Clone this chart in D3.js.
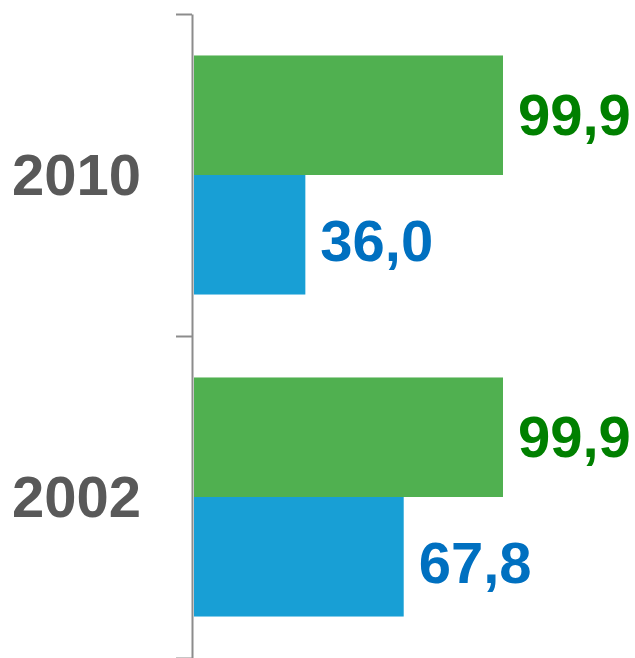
<!DOCTYPE html>
<html><head><meta charset="utf-8">
<script src="https://cdn.jsdelivr.net/npm/d3@7"></script>
<style>html,body{margin:0;padding:0;background:#fff}svg{display:block}</style>
</head><body>
<svg id="c" width="635" height="658"></svg>
<script>
const years = ["2010", "2002"];
const series = ["green", "blue"];
const greenValues = [99.9, 99.9];
const blueValues = [36.0, 67.8];
const barColors = {green: "#50B050", blue: "#189FD5"};
const labelColors = {green: "#008000", blue: "#0070C0"};

const svg = d3.select("#c");
const fmt = v => v.toFixed(1).replace(".", ",");

const y = d3.scaleBand().domain(years).range([14, 658]).paddingInner(0).paddingOuter(0);
const sub = d3.scaleBand().domain(series).range([0, y.bandwidth()]).paddingInner(0).paddingOuter(0.347);
const x = d3.scaleLinear().domain([0, 100]).range([194, 503.3]);

const data = [];
years.forEach((yr, i) => {
  data.push({year: yr, s: "green", v: greenValues[i]});
  data.push({year: yr, s: "blue", v: blueValues[i]});
});

svg.selectAll("rect.bar").data(data).enter().append("rect")
  .attr("class", "bar")
  .attr("x", x(0))
  .attr("y", d => y(d.year) + sub(d.s))
  .attr("width", d => x(d.v) - x(0))
  .attr("height", sub.bandwidth())
  .attr("fill", d => barColors[d.s]);

svg.selectAll("text.val").data(data).enter().append("text")
  .attr("class", "val")
  .attr("x", d => x(d.v) + 15)
  .attr("y", d => y(d.year) + sub(d.s) + sub.bandwidth() / 2 + (d.s === "blue" ? 26 : 19.5))
  .attr("font-family", "Liberation Sans, Arial, sans-serif")
  .attr("font-weight", "bold")
  .attr("font-size", 58)
  .attr("fill", d => labelColors[d.s])
  .text(d => fmt(d.v));

// axis
const tickScale = d3.scaleLinear().domain([0, years.length]).range([14, 658]);
const axis = d3.axisLeft(tickScale).tickValues(d3.range(years.length + 1)).tickSize(16).tickSizeOuter(0).tickFormat("");
const ag = svg.append("g").attr("transform", "translate(192,0)").call(axis);
ag.selectAll("path,line").attr("stroke", "#8c8c8c").attr("stroke-width", 2);

svg.selectAll("text.year").data(years).enter().append("text")
  .attr("class", "year")
  .attr("x", 141)
  .attr("y", d => y(d) + y.bandwidth() / 2 + 20)
  .attr("text-anchor", "end")
  .attr("font-family", "Liberation Sans, Arial, sans-serif")
  .attr("font-weight", "bold")
  .attr("font-size", 58)
  .attr("fill", "#595959")
  .text(d => d);
</script>
</body></html>
